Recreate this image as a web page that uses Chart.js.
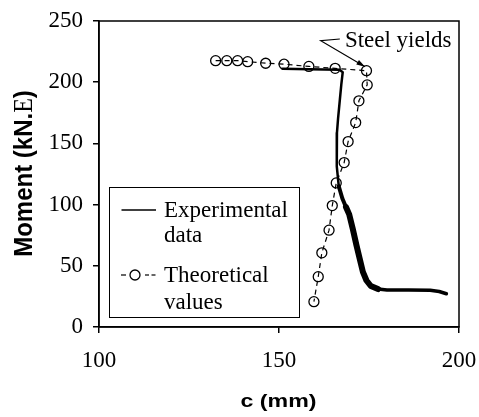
<!DOCTYPE html>
<html><head><meta charset="utf-8">
<script src="https://cdn.jsdelivr.net/npm/chart.js@4"></script>
<style>html,body{margin:0;padding:0;background:#fff;}#wrap{width:479px;height:417px;}</style>
</head><body><div id="wrap"><canvas id="c" width="479" height="417"></canvas></div>
<script>
// ---- data ----
const expX = [151, 158.5, 166.8, 167.7, 167.3, 166.9, 166.4, 166.1, 166.0, 166.1, 166.6, 167.6, 168.6, 169.5, 170.5, 171.5, 172.4, 173.3, 174.3, 175.5, 177.5, 180, 186, 192, 194.5, 196.5];
const expY = [210.9, 210.5, 210.1, 208.2, 197.8, 185.5, 170, 158.7, 145, 131.2, 115, 105, 98, 92, 80, 67, 56, 45, 38, 33.5, 31, 30.3, 30.2, 30, 29, 27.2];
const theoX = [132.4, 135.5, 138.5, 141.3, 146.3, 151.4, 158.3, 165.6, 174.3, 174.5, 172.2, 171.3, 169.2, 168.1, 165.9, 164.8, 163.9, 161.9, 160.9, 159.7];
const theoY = [217.6, 217.6, 217.6, 216.8, 215.5, 214.7, 212.9, 211.3, 209.4, 197.8, 184.8, 167.0, 151.5, 134.3, 117.7, 99.2, 79.1, 60.6, 41.1, 20.7];
const xTicks = [100, 150, 200];
const yTicks = [0, 50, 100, 150, 200, 250];
const legendLines = [['Experimental', 'data'], ['Theoretical', 'values']];
const xTitle = 'c (mm)';
const yTitleParts = ['Moment (kN.', 'E', ')'];
const noteText = 'Steel yields';
const noteVertex = [161.6, 233.9];
const noteTextEnd = [166.9, 235.3];
const noteTip = [173.9, 212.7];
const noteTextAnchor = [168.3, 229.1];

const SERIF = '"Liberation Serif", "Times New Roman", serif';
const SANS = '"Liberation Sans", Arial, sans-serif';

const extras = {
  id: 'extras',
  afterDraw(chart) {
    const ctx = chart.ctx, a = chart.chartArea, xs = chart.scales.x, ys = chart.scales.y;
    ctx.save();
    ctx.strokeStyle = '#000'; ctx.lineWidth = 1.5;
    ctx.strokeRect(a.left, a.top, a.right - a.left, a.bottom - a.top);
    ctx.fillStyle = '#000';
    // y title
    ctx.save();
    ctx.translate(32.3, 173.5);
    ctx.rotate(-Math.PI / 2);
    ctx.scale(1, 1.1);
    ctx.textBaseline = 'alphabetic'; ctx.textAlign = 'left';
    const fonts = ['bold 24px ' + SANS, '24px ' + SERIF, 'bold 24px ' + SANS];
    const widths = yTitleParts.map((t, i) => { ctx.font = fonts[i]; return ctx.measureText(t).width; });
    const total = widths.reduce((s, w) => s + w, 0);
    let xx = -total / 2;
    yTitleParts.forEach((t, i) => { ctx.font = fonts[i]; ctx.fillText(t, xx, 0); xx += widths[i]; });
    ctx.restore();
    // x title
    ctx.save();
    ctx.translate(278.5, 407);
    ctx.scale(1.22, 1);
    ctx.font = 'bold 19px ' + SANS; ctx.textAlign = 'center'; ctx.textBaseline = 'alphabetic';
    ctx.fillText(xTitle, 0, 0);
    ctx.restore();
    // annotation
    const px = p => [xs.getPixelForValue(p[0]), ys.getPixelForValue(p[1])];
    const v = px(noteVertex), te = px(noteTextEnd), tp = px(noteTip), ta = px(noteTextAnchor);
    ctx.lineWidth = 1.2;
    ctx.beginPath(); ctx.moveTo(te[0], te[1]); ctx.lineTo(v[0], v[1]); ctx.lineTo(tp[0], tp[1]); ctx.stroke();
    const ang = Math.atan2(tp[1] - v[1], tp[0] - v[0]);
    ctx.beginPath();
    ctx.moveTo(tp[0], tp[1]);
    ctx.lineTo(tp[0] - 9 * Math.cos(ang - 0.3), tp[1] - 9 * Math.sin(ang - 0.3));
    ctx.lineTo(tp[0] - 9 * Math.cos(ang + 0.3), tp[1] - 9 * Math.sin(ang + 0.3));
    ctx.closePath(); ctx.fill();
    ctx.font = '23px ' + SERIF; ctx.textAlign = 'left'; ctx.textBaseline = 'alphabetic';
    ctx.fillText(noteText, ta[0], ta[1]);
    // legend
    ctx.lineWidth = 1;
    ctx.strokeRect(109.5, 187.5, 190, 130);
    ctx.lineWidth = 1.5;
    ctx.beginPath(); ctx.moveTo(121.5, 210); ctx.lineTo(156, 210); ctx.stroke();
    ctx.lineWidth = 1.2;
    [[121, 126], [145, 149], [151.5, 155.5]].forEach(s => { ctx.beginPath(); ctx.moveTo(s[0], 275); ctx.lineTo(s[1], 275); ctx.stroke(); });
    ctx.lineWidth = 1.3;
    ctx.beginPath(); ctx.arc(135, 275, 5, 0, Math.PI * 2); ctx.stroke();
    ctx.font = '23px ' + SERIF;
    ctx.fillText(legendLines[0][0], 164, 217.3);
    ctx.fillText(legendLines[0][1], 164, 241.7);
    ctx.fillText(legendLines[1][0], 164, 281.7);
    ctx.fillText(legendLines[1][1], 164, 309);
    ctx.restore();
  }
};

const axisCommon = {
  type: 'linear',
  ticks: { font: { family: SERIF, size: 23 }, color: '#000', maxRotation: 0, autoSkip: false },
  grid: { display: true, drawOnChartArea: false, drawTicks: true, tickLength: 6, color: '#000', lineWidth: 1.5 },
  border: { display: true, color: '#000', width: 1.5 }
};

new Chart(document.getElementById('c'), {
  type: 'scatter',
  data: {
    datasets: [
      {
        label: legendLines[0].join(' '),
        data: expX.map((x, i) => ({ x, y: expY[i] })),
        showLine: true, borderColor: '#000', borderWidth: 2.5, pointRadius: 0, tension: 0,
        borderJoinStyle: 'round', borderCapStyle: 'round',
        segment: { borderWidth: c => { const y = c.p0.parsed.y; return (y <= 100 && y > 33) ? 6 : (y <= 131 && y > 100 ? 4 : (y <= 33 ? 3.5 : 2.5)); } }
      },
      {
        label: legendLines[1].join(' '),
        data: theoX.map((x, i) => ({ x, y: theoY[i] })),
        showLine: true, borderColor: '#000', borderWidth: 1.2, borderDash: [5, 4],
        pointStyle: 'circle', pointRadius: 5, pointBorderWidth: 1.3,
        pointBorderColor: '#000', pointBackgroundColor: 'rgba(0,0,0,0)'
      }
    ]
  },
  options: {
    responsive: false, animation: false, devicePixelRatio: 1,
    layout: { padding: { top: 21, right: 20, left: 0, bottom: 0 } },
    plugins: { legend: { display: false }, tooltip: { enabled: false } },
    scales: {
      x: Object.assign({}, axisCommon, {
        min: 100, max: 200,
        ticks: Object.assign({}, axisCommon.ticks, { padding: 14 }),
        afterBuildTicks: s => { s.ticks = xTicks.map(v => ({ value: v })); },
        afterFit: s => { s.height = 90; s.paddingLeft = 0; s.paddingRight = 0; }
      }),
      y: Object.assign({}, axisCommon, {
        min: 0, max: 250,
        ticks: Object.assign({}, axisCommon.ticks, { padding: 10 }),
        afterBuildTicks: s => { s.ticks = yTicks.map(v => ({ value: v })); },
        afterFit: s => { s.width = 99; s.paddingTop = 0; s.paddingBottom = 0; }
      })
    }
  },
  plugins: [extras]
});
</script></body></html>
